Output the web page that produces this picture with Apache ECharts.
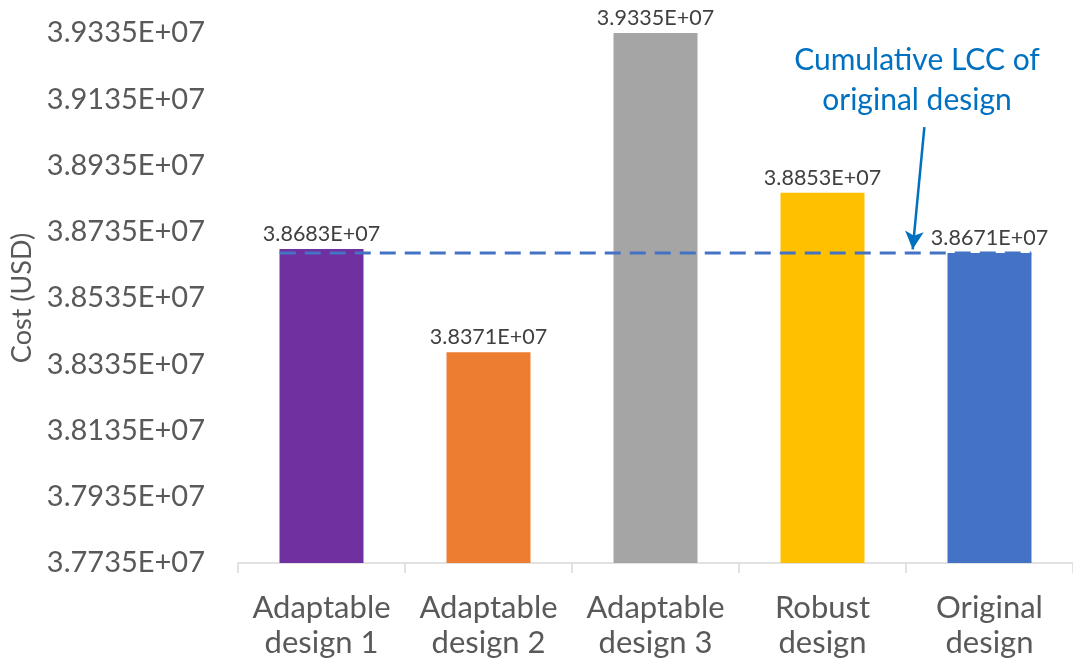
<!DOCTYPE html>
<html><head><meta charset="utf-8">
<script src="https://cdn.jsdelivr.net/npm/echarts@6/dist/echarts.min.js"></script>
<style>html,body{margin:0;padding:0;background:#fff}#c{width:1073px;height:664px}</style>
</head><body><div id="c"></div>
<script>
const categories = ['Adaptable\ndesign 1', 'Adaptable\ndesign 2', 'Adaptable\ndesign 3', 'Robust\ndesign', 'Original\ndesign'];
const costs = [38683000, 38371000, 39335000, 38853000, 38671000];
const barColors = ['#7030A0', '#ED7D31', '#A5A5A5', '#FFC000', '#4472C4'];
const yMin = 37735000;
const yMax = 39335000;
const yStep = 200000;
const referenceCost = costs[4];
const annotationText = 'Cumulative LCC of\noriginal design';
// arrow start/end in [category position, cost]
const arrowFrom = [3.61, 39051000];
const arrowTo = [3.54, 38682000];

const FONT = 'Lato';
const fmt = v => (v / 1e7).toFixed(4) + 'E+07';

const chart = echarts.init(document.getElementById('c'), null, {renderer: 'canvas'});
chart.setOption({
  animation: false,
  textStyle: {fontFamily: FONT},
  grid: {left: 238, right: 0, top: 33, bottom: 101, containLabel: false, outerBoundsMode: 'none'},
  xAxis: [{
    type: 'category', data: categories,
    axisLine: {lineStyle: {color: '#D9D9D9', width: 1.5}},
    axisTick: {show: true, length: 10, lineStyle: {color: '#D9D9D9', width: 1.5}},
    axisLabel: {color: '#595959', fontSize: 31, lineHeight: 35, margin: 27, fontFamily: FONT, interval: 0}
  }, {
    type: 'value', min: -0.5, max: 4.5, show: false
  }],
  yAxis: {
    type: 'value', min: 0, max: yMax - yMin, interval: yStep,
    name: 'Cost (USD)', nameLocation: 'middle', nameGap: 201, nameRotate: 90,
    nameTextStyle: {color: '#595959', fontSize: 27, fontFamily: FONT},
    axisLine: {show: false}, axisTick: {show: false}, splitLine: {show: false},
    axisLabel: {color: '#595959', fontSize: 29, margin: 33, fontFamily: FONT,
      formatter: v => fmt(v + yMin)}
  },
  series: [{
    type: 'bar', xAxisIndex: 0, barWidth: 84,
    data: costs.map((v, i) => ({value: v - yMin, itemStyle: {color: barColors[i]}})),
    label: {show: true, position: 'top', distance: 4, color: '#404040', fontSize: 21.5, fontFamily: FONT,
      formatter: p => fmt(costs[p.dataIndex])},
    z: 2
  }, {
    type: 'line', xAxisIndex: 1, symbol: 'none', z: 5,
    data: [[-0.25, referenceCost - yMin], [4.25, referenceCost - yMin]],
    lineStyle: {color: '#4472C4', width: 3, type: [16, 9]},
    markLine: {
      silent: true, symbol: ['none', 'arrow'], symbolSize: [14, 18],
      label: {show: false},
      lineStyle: {color: '#0070C0', width: 2.5, type: 'solid'},
      data: [[{coord: [arrowFrom[0], arrowFrom[1] - yMin]}, {coord: [arrowTo[0], arrowTo[1] - yMin]}]]
    }
  }],
  graphic: [{
    type: 'text', x: 917, y: 40,
    style: {text: annotationText, fill: '#0070C0', font: '30px ' + FONT, align: 'center', verticalAlign: 'top', lineHeight: 40}
  }]
});
</script></body></html>
